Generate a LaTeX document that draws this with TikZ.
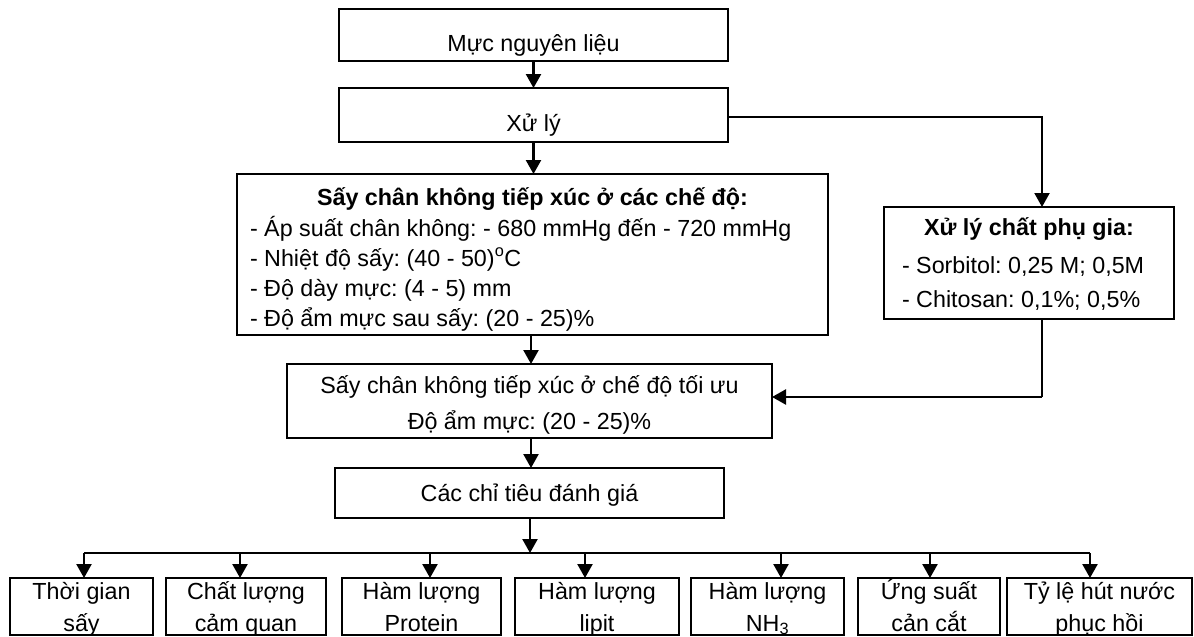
\documentclass[tikz,border=0pt]{standalone}
\usepackage{fontspec}
\setmainfont{Liberation Sans}
\usetikzlibrary{arrows.meta}
\newcommand\myfs{\fontsize{23.3}{28}\selectfont\frenchspacing}
\begin{document}
\begin{tikzpicture}[x=1pt,y=-1pt,
  box/.style={draw, line width=2.7pt, inner sep=0pt, outer sep=0pt},
  txt/.style={inner sep=0pt, outer sep=0pt, font=\myfs},
  btxt/.style={inner sep=0pt, outer sep=0pt, font=\myfs\bfseries},
  arr/.style={line width=2.4pt, -{Triangle[width=15pt,length=14pt]}},
  thinline/.style={line width=1.4pt},
  midline/.style={line width=2pt}]
\useasboundingbox (0,0) rectangle (1194,637);

% top chain
\node[box, minimum width=389pt, minimum height=52pt] (b1) at (533.5,35) {};
\node[txt, anchor=base] (t1) at (533.5,51) {Mực nguyên liệu};
\node[box, minimum width=389pt, minimum height=54pt] (b2) at (533.5,115) {};
\node[txt, anchor=base] (t2) at (533.5,131) {Xử lý};

% main drying box
\node[box, minimum width=591pt, minimum height=161pt] (b3) at (532.5,254.5) {};
\node[btxt, anchor=base] (t3) at (532.5,205) {Sấy chân không tiếp xúc ở các chế độ:};
\node[txt, anchor=base west] (t3a) at (250,236.5) {- Áp suất chân không: - 680 mmHg đến - 720 mmHg};
\node[txt, anchor=base west] (t3b) at (250,266) {- Nhiệt độ sấy: (40 - 50)\textsuperscript{o}C};
\node[txt, anchor=base west] (t3c) at (250,296) {- Độ dày mực: (4 - 5) mm};
\node[txt, anchor=base west] (t3d) at (250,326) {- Độ ẩm mực sau sấy: (20 - 25)\%};

% additive box
\node[box, minimum width=290pt, minimum height=112pt] (b4) at (1029,263) {};
\node[btxt, anchor=base] (t4) at (1029,235) {Xử lý chất phụ gia:};
\node[txt, anchor=base west] (t4a) at (902,273) {- Sorbitol: 0,25 M; 0,5M};
\node[txt, anchor=base west] (t4b) at (902,307) {- Chitosan: 0,1\%; 0,5\%};

% optimum box
\node[box, minimum width=485pt, minimum height=74pt] (b5) at (529.5,401) {};
\node[txt, anchor=base] (t5a) at (529.5,393) {Sấy chân không tiếp xúc ở chế độ tối ưu};
\node[txt, anchor=base] (t5b) at (529.5,429) {Độ ẩm mực: (20 - 25)\%};

% criteria box
\node[box, minimum width=389pt, minimum height=50pt] (b6) at (529.5,493) {};
\node[txt, anchor=base] (t6) at (529.5,501) {Các chỉ tiêu đánh giá};

% connectors of the main chain
\coordinate (ax) at (531,0);
\draw[arr] (b1.south) -- (b2.north);
\draw[arr] (b2.south) -- (b2.south |- b3.north);
\draw[arr] (ax |- b3.south) -- (ax |- b5.north);
\draw[arr] (ax |- b5.south) -- (ax |- b6.north);

% side branch
\coordinate (k1) at (1042,117);
\coordinate (k2) at (1042,397);
\draw[midline, -{Triangle[width=15pt,length=14pt]}] (b2.east |- k1) -- (k1) -- (k1 |- b4.north);
\draw[thinline] (k2 |- b4.south) -- (k2);
\draw[arr] (k2) -- (k2 -| b5.east);

% bus
\coordinate (bus) at (530,553);
\draw[arr] (bus |- b6.south) -- (bus);

\foreach \i/\cx/\w/\la/\lb/\ax in {
  1/81.5/143/Thời gian/sấy/84,
  2/246/160/Chất lượng/cảm quan/240,
  3/421.5/159/Hàm lượng/Protein/430,
  4/597/164/Hàm lượng/lipit/585,
  5/767.5/153/Hàm lượng/NH\textsubscript{3}/781,
  6/929/142/Ứng suất/cản cắt/930,
  7/1099.5/185/Tỷ lệ hút nước/phục hồi/1090}{
  \node[box, minimum width=\w pt, minimum height=57pt] (c\i) at (\cx,606.5) {};
  \node[txt, anchor=base] (c\i a) at (\cx,599) {\la};
  \node[txt, anchor=base] (c\i b) at (\cx,631) {\lb};
  \coordinate (p\i) at (\ax,553);
  \draw[arr] (p\i) -- (p\i |- c\i.north);
}
\draw[thinline] (p1) -- (p7);
\end{tikzpicture}
\end{document}
